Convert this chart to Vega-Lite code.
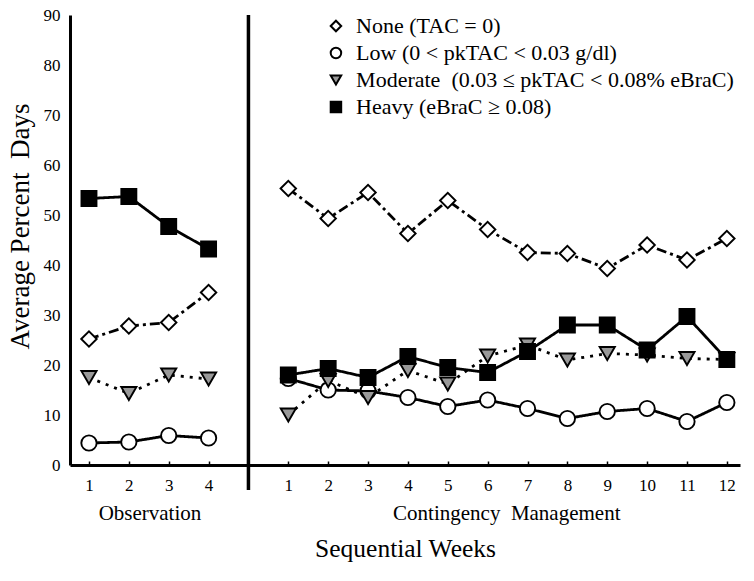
{
  "$schema": "https://vega.github.io/schema/vega-lite/v6.json",
  "autosize": {"type": "none"},
  "width": 670,
  "height": 450,
  "padding": {"left": 70, "top": 15, "right": 14, "bottom": 116},
  "background": "white",
  "config": {
    "view": {"stroke": null},
    "font": "Liberation Serif",
    "axis": {"grid": false, "labelFont": "Liberation Serif", "titleFont": "Liberation Serif", "labelColor": "black", "titleColor": "black", "domainColor": "black", "tickColor": "black", "titleFontWeight": "normal"}
  },
  "datasets": {
    "main": [
      {"phase": "Obs", "pos": 1, "level": "None", "value": 25.2},
      {"phase": "Obs", "pos": 2, "level": "None", "value": 27.8},
      {"phase": "Obs", "pos": 3, "level": "None", "value": 28.5},
      {"phase": "Obs", "pos": 4, "level": "None", "value": 34.5},
      {"phase": "Obs", "pos": 1, "level": "Low", "value": 4.4},
      {"phase": "Obs", "pos": 2, "level": "Low", "value": 4.6},
      {"phase": "Obs", "pos": 3, "level": "Low", "value": 5.9},
      {"phase": "Obs", "pos": 4, "level": "Low", "value": 5.4},
      {"phase": "Obs", "pos": 1, "level": "Moderate", "value": 17.5},
      {"phase": "Obs", "pos": 2, "level": "Moderate", "value": 14.3},
      {"phase": "Obs", "pos": 3, "level": "Moderate", "value": 18.0},
      {"phase": "Obs", "pos": 4, "level": "Moderate", "value": 17.2},
      {"phase": "Obs", "pos": 1, "level": "Heavy", "value": 53.3},
      {"phase": "Obs", "pos": 2, "level": "Heavy", "value": 53.7},
      {"phase": "Obs", "pos": 3, "level": "Heavy", "value": 47.7},
      {"phase": "Obs", "pos": 4, "level": "Heavy", "value": 43.2},
      {"phase": "CM", "pos": 6, "level": "None", "value": 55.3},
      {"phase": "CM", "pos": 7, "level": "None", "value": 49.3},
      {"phase": "CM", "pos": 8, "level": "None", "value": 54.5},
      {"phase": "CM", "pos": 9, "level": "None", "value": 46.3},
      {"phase": "CM", "pos": 10, "level": "None", "value": 52.9},
      {"phase": "CM", "pos": 11, "level": "None", "value": 47.1},
      {"phase": "CM", "pos": 12, "level": "None", "value": 42.5},
      {"phase": "CM", "pos": 13, "level": "None", "value": 42.3},
      {"phase": "CM", "pos": 14, "level": "None", "value": 39.3},
      {"phase": "CM", "pos": 15, "level": "None", "value": 44.0},
      {"phase": "CM", "pos": 16, "level": "None", "value": 41.0},
      {"phase": "CM", "pos": 17, "level": "None", "value": 45.3},
      {"phase": "CM", "pos": 6, "level": "Low", "value": 17.3},
      {"phase": "CM", "pos": 7, "level": "Low", "value": 15.0},
      {"phase": "CM", "pos": 8, "level": "Low", "value": 14.8},
      {"phase": "CM", "pos": 9, "level": "Low", "value": 13.5},
      {"phase": "CM", "pos": 10, "level": "Low", "value": 11.7},
      {"phase": "CM", "pos": 11, "level": "Low", "value": 13.0},
      {"phase": "CM", "pos": 12, "level": "Low", "value": 11.3},
      {"phase": "CM", "pos": 13, "level": "Low", "value": 9.3},
      {"phase": "CM", "pos": 14, "level": "Low", "value": 10.7},
      {"phase": "CM", "pos": 15, "level": "Low", "value": 11.3},
      {"phase": "CM", "pos": 16, "level": "Low", "value": 8.7},
      {"phase": "CM", "pos": 17, "level": "Low", "value": 12.5},
      {"phase": "CM", "pos": 6, "level": "Moderate", "value": 10.0},
      {"phase": "CM", "pos": 7, "level": "Moderate", "value": 16.9},
      {"phase": "CM", "pos": 8, "level": "Moderate", "value": 13.5},
      {"phase": "CM", "pos": 9, "level": "Moderate", "value": 18.9},
      {"phase": "CM", "pos": 10, "level": "Moderate", "value": 16.2},
      {"phase": "CM", "pos": 11, "level": "Moderate", "value": 21.8},
      {"phase": "CM", "pos": 12, "level": "Moderate", "value": 24.0},
      {"phase": "CM", "pos": 13, "level": "Moderate", "value": 21.0},
      {"phase": "CM", "pos": 14, "level": "Moderate", "value": 22.3},
      {"phase": "CM", "pos": 15, "level": "Moderate", "value": 22.0},
      {"phase": "CM", "pos": 16, "level": "Moderate", "value": 21.3},
      {"phase": "CM", "pos": 17, "level": "Moderate", "value": 21.1},
      {"phase": "CM", "pos": 6, "level": "Heavy", "value": 18.0},
      {"phase": "CM", "pos": 7, "level": "Heavy", "value": 19.3},
      {"phase": "CM", "pos": 8, "level": "Heavy", "value": 17.5},
      {"phase": "CM", "pos": 9, "level": "Heavy", "value": 21.7},
      {"phase": "CM", "pos": 10, "level": "Heavy", "value": 19.5},
      {"phase": "CM", "pos": 11, "level": "Heavy", "value": 18.5},
      {"phase": "CM", "pos": 12, "level": "Heavy", "value": 22.7},
      {"phase": "CM", "pos": 13, "level": "Heavy", "value": 28.0},
      {"phase": "CM", "pos": 14, "level": "Heavy", "value": 28.0},
      {"phase": "CM", "pos": 15, "level": "Heavy", "value": 23.0},
      {"phase": "CM", "pos": 16, "level": "Heavy", "value": 29.7},
      {"phase": "CM", "pos": 17, "level": "Heavy", "value": 21.1}
    ],
    "legendRows": [
      {"level": "None", "label": "None (TAC = 0)"},
      {"level": "Low", "label": "Low (0 < pkTAC < 0.03 g/dl)"},
      {"level": "Moderate", "label": "Moderate\u00a0 (0.03 ≤ pkTAC < 0.08% eBraC)"},
      {"level": "Heavy", "label": "Heavy (eBraC ≥ 0.08)"}
    ]
  },
  "resolve": {"scale": {"y": "independent", "size": "independent"}},
  "layer": [
    {
      "data": {"name": "main"},
      "layer": [
        {
          "mark": {"type": "line", "stroke": "black", "strokeWidth": 2.8},
          "encoding": {
            "x": {
              "field": "pos", "type": "quantitative",
              "scale": {"domain": [0.524, 17.33], "nice": false, "zero": false},
              "axis": {
                "orient": "bottom",
                "values": [1, 2, 3, 4, 6, 7, 8, 9, 10, 11, 12, 13, 14, 15, 16, 17],
                "labelExpr": "datum.value <= 4 ? datum.value : datum.value - 5",
                "title": "Sequential Weeks",
                "titleFont": "Liberation Serif",
                "titleFontSize": 25.5,
                "titlePadding": 43,
                "domainWidth": 3,
                "tickSize": -4,
                "tickWidth": 1.5,
                "labelPadding": 16,
                "labelFont": "Liberation Serif",
                "labelFontSize": 17,
                "labelFlush": false,
                "labelOverlap": false
              }
            },
            "y": {
              "field": "value", "type": "quantitative",
              "scale": {"domain": [0, 90], "nice": false},
              "axis": {
                "values": [0, 10, 20, 30, 40, 50, 60, 70, 80, 90],
                "title": "Average Percent\u00a0 Days",
                "titleFont": "Liberation Serif",
                "titleFontSize": 27,
                "titlePadding": 9,
                "titleY": 211,
                "labelFont": "Liberation Serif",
                "labelFontSize": 17,
                "labelPadding": 10,
                "ticks": false,
                "domainWidth": 3
              }
            },
            "detail": {"field": "phase"},
            "strokeDash": {
              "field": "level", "type": "nominal",
              "scale": {"domain": ["None", "Low", "Moderate", "Heavy"], "range": [[10, 4, 3, 4], [1, 0], [3, 6], [1, 0]]},
              "legend": null
            }
          }
        },
        {
          "mark": {"type": "point", "filled": true, "stroke": "black", "strokeWidth": 1.9, "opacity": 1},
          "encoding": {
            "x": {"field": "pos", "type": "quantitative"},
            "y": {"field": "value", "type": "quantitative"},
            "shape": {
              "field": "level", "type": "nominal",
              "scale": {"domain": ["None", "Low", "Moderate", "Heavy"], "range": ["diamond", "circle", "triangle-down", "square"]},
              "legend": null
            },
            "fill": {
              "field": "level", "type": "nominal",
              "scale": {"domain": ["None", "Low", "Moderate", "Heavy"], "range": ["white", "white", "#999999", "black"]},
              "legend": null
            },
            "size": {
              "field": "level", "type": "nominal",
              "scale": {"domain": ["None", "Low", "Moderate", "Heavy"], "range": [240, 225, 215, 195]},
              "legend": null
            }
          }
        },
        {
          "data": {"values": [{}]},
          "mark": {"type": "rule", "stroke": "black", "strokeWidth": 3.5},
          "encoding": {
            "x": {"datum": 5, "type": "quantitative"},
            "y": {"datum": 90, "type": "quantitative"},
            "y2": {"datum": -5}
          }
        },
        {
          "data": {"values": [{}]},
          "mark": {"type": "text", "font": "Liberation Serif", "fontSize": 21, "color": "black", "align": "center", "baseline": "middle"},
          "encoding": {
            "x": {"datum": 2.53, "type": "quantitative"},
            "y": {"datum": -9.8, "type": "quantitative"},
            "text": {"value": "Observation"}
          }
        },
        {
          "data": {"values": [{}]},
          "mark": {"type": "text", "font": "Liberation Serif", "fontSize": 21, "color": "black", "align": "center", "baseline": "middle"},
          "encoding": {
            "x": {"datum": 11.48, "type": "quantitative"},
            "y": {"datum": -9.8, "type": "quantitative"},
            "text": {"value": "Contingency\u00a0 Management"}
          }
        }
      ]
    },
    {
      "data": {"name": "legendRows"},
      "layer": [
        {
          "mark": {"type": "point", "filled": true, "stroke": "black", "strokeWidth": 2, "opacity": 1, "size": 110},
          "encoding": {
            "x": {"datum": 7.195, "type": "quantitative"},
            "y": {
              "field": "level", "type": "ordinal",
              "scale": {"type": "point", "domain": ["None", "Low", "Moderate", "Heavy"], "range": [11, 92], "padding": 0},
              "axis": null
            },
            "shape": {"field": "level", "type": "nominal", "legend": null},
            "fill": {"field": "level", "type": "nominal", "legend": null}
          }
        },
        {
          "mark": {"type": "text", "font": "Liberation Serif", "fontSize": 22, "color": "black", "align": "left", "baseline": "middle"},
          "encoding": {
            "x": {"datum": 7.7, "type": "quantitative"},
            "y": {"field": "level", "type": "ordinal", "axis": null},
            "text": {"field": "label"}
          }
        }
      ]
    }
  ]
}
